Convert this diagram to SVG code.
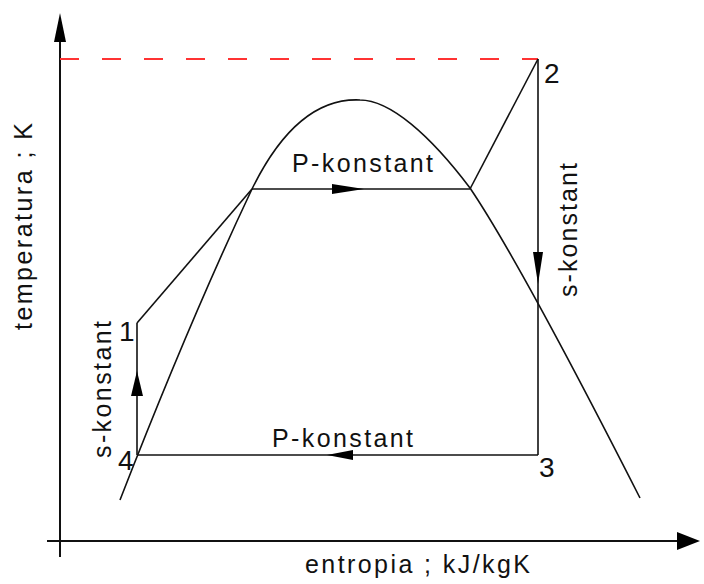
<svg xmlns="http://www.w3.org/2000/svg" width="704" height="584" viewBox="0 0 704 584">
<style>
.ax{stroke:#111;stroke-width:2;fill:none}
.ln{stroke:#111;stroke-width:1.6;fill:none}
.ah{fill:#000;stroke:none}
.t{font-family:"Liberation Sans",Arial,sans-serif;font-size:25px;fill:#111}
.d{font-family:"Liberation Sans",Arial,sans-serif;font-size:28px;fill:#111}
</style>
<rect width="704" height="584" fill="#fff"/>
<g id="axes">
<line class="ax" x1="60" y1="557" x2="60" y2="30"/>
<polygon class="ah" points="60,13 54,42 66,42"/>
<line class="ax" x1="47" y1="541" x2="685" y2="541"/>
<polygon class="ah" points="700,541 677,532 677,550"/>
</g>
<g id="dashed-line">
<line x1="60" y1="59" x2="538" y2="59" stroke="#ff3333" stroke-width="2" stroke-dasharray="19 23"/>
</g>
<g id="dome">
<path class="ln" d="M120,500 Q190,320 252,189 C282,128 318,98 360,100 C390,100 430,135 470,188 Q520,262 640,498"/>
</g>
<g id="connectors">
<line class="ln" x1="137" y1="323" x2="252" y2="189"/>
<line class="ln" x1="252" y1="189" x2="470" y2="189"/>
<polygon class="ah" points="364,189 332,184 332,194"/>
<line class="ln" x1="470" y1="189" x2="538" y2="59"/>
<line class="ln" x1="538" y1="59" x2="538" y2="455"/>
<polygon class="ah" points="538,284 533,252 543,252"/>
<line class="ln" x1="538" y1="455" x2="137" y2="455"/>
<polygon class="ah" points="327,455 353,450 353,460"/>
<line class="ln" x1="137" y1="455" x2="137" y2="323"/>
<polygon class="ah" points="137,371 131,396 143,396"/>
</g>
<g id="point-1"><text class="d" x="119" y="341">1</text></g>
<g id="point-2"><text class="d" x="544" y="83">2</text></g>
<g id="point-3"><text class="d" x="539" y="477">3</text></g>
<g id="point-4"><text class="d" x="118" y="470">4</text></g>
<g id="labels">
<text class="t" x="292" y="172" textLength="141" lengthAdjust="spacing">P-konstant</text>
<text class="t" x="272" y="447" textLength="141" lengthAdjust="spacing">P-konstant</text>
<text class="t" x="305" y="573" textLength="225" lengthAdjust="spacing">entropia ; kJ/kgK</text>
<text class="t" transform="translate(32,330) rotate(-90)" textLength="207" lengthAdjust="spacing">temperatura ; K</text>
<text class="t" transform="translate(577,297) rotate(-90)" textLength="134" lengthAdjust="spacing">s-konstant</text>
<text class="t" transform="translate(111,458) rotate(-90)" textLength="137" lengthAdjust="spacing">s-konstant</text>
</g>
</svg>
